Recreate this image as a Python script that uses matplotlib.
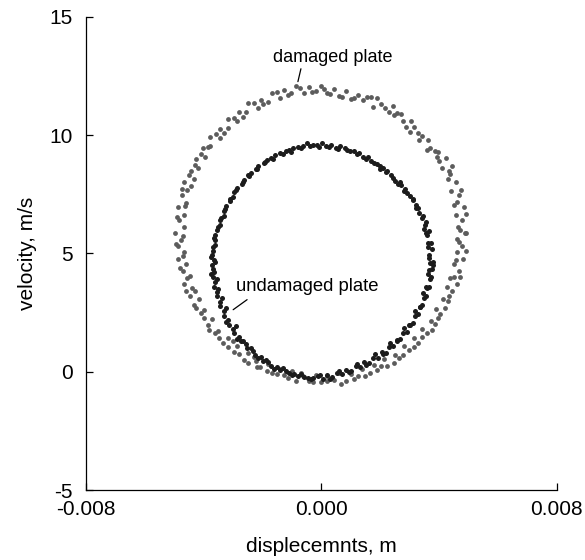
import numpy as np
import matplotlib.pyplot as plt

plt.rcParams['font.family'] = ['Liberation Sans', 'DejaVu Sans']
plt.rcParams['axes.unicode_minus'] = False

# damaged plate (outer ring): displacement in mm, velocity in m/s
damaged_mm = [
    4.87, 4.64, 4.78, 4.57, 4.83, 4.60, 4.68, 4.41, 4.57, 4.29,
    4.35, 4.08, 4.24, 3.92, 3.87, 3.57, 3.61, 3.31, 3.28, 3.00,
    3.05, 2.78, 2.70, 2.45, 2.44, 2.15, 2.03, 1.76, 1.67, 1.41,
    1.25, 1.00, 0.84, 0.60, 0.42, 0.20,
    -0.02, -0.20, -0.42, -0.61, -0.87, -1.04, -1.27, -1.41, -1.69, -1.81,
    -2.06, -2.16, -2.49, -2.56, -2.81, -2.86, -3.18, -3.19, -3.45, -3.45,
    -3.80, -3.79, -4.02, -3.96, -4.27, -4.18, -4.42, -4.32, -4.67, -4.56,
    -4.75, -4.59, -4.87, -4.68, -4.85, -4.67,
    -4.97, -4.77, -4.89, -4.66, -4.87, -4.61, -4.71, -4.46, -4.67, -4.41,
    -4.45, -4.16, -4.27, -3.98, -3.99, -3.71, -3.81, -3.52, -3.47, -3.17,
    -3.18, -2.87, -2.79, -2.51, -2.49, -2.21, -2.08, -1.80, -1.69, -1.42,
    -1.26, -1.01, -0.87, -0.62, -0.43, -0.20,
    0.00, 0.20, 0.41, 0.60, 0.85, 1.02, 1.25, 1.39, 1.66, 1.78,
    2.03, 2.13, 2.46, 2.49, 2.77, 2.81, 3.13, 3.14, 3.40, 3.40,
    3.75, 3.73, 3.96, 3.90, 4.21, 4.12, 4.35, 4.25, 4.60, 4.49,
    4.68, 4.52, 4.80, 4.61, 4.78, 4.60,
    4.70, 4.90, 4.52, 4.74, 4.38, 4.45, 3.98, 3.95, 3.68, 3.42,
    3.15, 2.88, 2.58, 2.28, 1.90, 1.55, 1.10, 0.70, 0.30, 0.10,
    -0.32, -0.72, -1.12, -1.50, -1.98, -2.30, -2.68, -2.98, -3.30, -3.58,
    -3.84, -4.08, -4.30, -4.50, -4.44, -4.74, -4.62, -4.92,
    -4.72, -4.94, -4.70, -4.82, -4.56, -4.60, -4.30, -4.32, -4.08, -3.86,
    -3.62, -3.36, -3.02, -2.96, -2.62, -2.30, -2.20, -1.86, -1.50, -1.12,
    -0.70, -0.30,
    0.18, 0.66, 1.10, 1.48, 1.90, 2.24, 2.62, 2.96, 3.28, 3.58,
    3.86, 4.02, 4.30, 4.44, 4.36, 4.72, 4.56, 4.90, 4.66, 4.92,
]
damaged_vel = [
    5.85, 6.11, 6.40, 6.63, 6.95, 7.17, 7.47, 7.65, 8.00, 8.15,
    8.48, 8.61, 9.02, 9.06, 9.31, 9.37, 9.78, 9.79, 10.10, 10.13,
    10.59, 10.59, 10.89, 10.87, 11.22, 11.15, 11.30, 11.20, 11.60, 11.47,
    11.70, 11.52, 11.86, 11.65, 11.94, 11.80,
    12.08, 11.87, 12.04, 11.77, 12.09, 11.80, 11.90, 11.57, 11.77, 11.41,
    11.48, 11.15, 11.34, 10.99, 10.98, 10.61, 10.67, 10.29, 10.24, 9.88,
    9.92, 9.56, 9.44, 9.07, 8.99, 8.63, 8.48, 8.13, 8.01, 7.68,
    7.47, 7.15, 6.95, 6.64, 6.40, 6.11,
    5.85, 5.58, 5.30, 5.07, 4.75, 4.55, 4.24, 4.06, 3.69, 3.52,
    3.20, 3.08, 2.70, 2.61, 2.28, 2.22, 1.78, 1.73, 1.42, 1.43,
    1.03, 1.07, 0.76, 0.81, 0.36, 0.44, 0.18, 0.31, -0.07, 0.11,
    -0.15, 0.02, -0.39, -0.20, -0.39, -0.14,
    -0.45, -0.17, -0.34, -0.07, -0.39, -0.10, -0.20, 0.13, -0.07, 0.29,
    0.22, 0.55, 0.36, 0.71, 0.72, 1.09, 1.03, 1.41, 1.46, 1.82,
    1.78, 2.14, 2.26, 2.63, 2.70, 3.07, 3.22, 3.57, 3.69, 4.02,
    4.24, 4.55, 4.75, 5.06, 5.30, 5.60,
    6.00, 6.65, 7.05, 7.70, 8.35, 8.70, 8.92, 9.30, 9.45, 9.98,
    10.35, 10.35, 10.95, 10.98, 11.55, 11.62, 11.55, 11.62, 11.72, 11.95,
    11.82, 11.98, 11.68, 11.82, 11.30, 11.34, 10.78, 10.74, 10.10, 10.05,
    9.50, 9.22, 8.72, 8.30, 7.85, 7.72, 7.00, 6.55,
    5.72, 5.40, 4.90, 4.40, 3.98, 3.40, 3.40, 2.84, 2.50, 1.98,
    1.62, 1.22, 1.30, 0.82, 0.50, 0.62, 0.18, 0.02, -0.10, -0.26,
    -0.06, -0.45,
    -0.40, -0.50, -0.30, -0.18, 0.06, 0.26, 0.60, 0.92, 1.22, 1.62,
    2.02, 2.42, 2.98, 3.40, 3.95, 4.00, 4.72, 5.10, 5.50, 5.85,
]

# undamaged plate (inner ring)
undamaged_mm = [
    3.80, 3.66, 3.75, 3.62, 3.73, 3.60, 3.66, 3.50, 3.56, 3.40,
    3.44, 3.28, 3.20, 3.12, 3.10, 2.90, 2.84, 2.70, 2.66, 2.50,
    2.36, 2.22, 2.10, 1.98, 1.90, 1.70, 1.58, 1.40, 1.26, 1.10,
    0.96, 0.80, 0.64, 0.48, 0.32, 0.16,
    0.02, -0.16, -0.30, -0.48, -0.64, -0.80, -0.96, -1.10, -1.22, -1.42,
    -1.58, -1.72, -1.86, -1.96, -2.14, -2.22, -2.40, -2.47, -2.64, -2.70,
    -2.86, -2.96, -3.00, -3.10, -3.24, -3.30, -3.32, -3.44, -3.46, -3.54,
    -3.60, -3.62, -3.61, -3.68, -3.72, -3.66,
    -3.73, -3.70, -3.66, -3.70, -3.61, -3.64, -3.55, -3.56, -3.44, -3.45,
    -3.31, -3.30, -3.16, -3.14, -2.99, -2.96, -2.79, -2.75, -2.57, -2.52,
    -2.33, -2.27, -2.07, -2.00, -1.80, -1.72, -1.52, -1.42, -1.22, -1.10,
    -0.92, -0.78, -0.60, -0.46, -0.28, -0.12,
    0.04, 0.20, 0.36, 0.52, 0.70, 0.84, 1.00, 1.16, 1.32, 1.46,
    1.62, 1.76, 1.91, 2.04, 2.18, 2.30, 2.44, 2.55, 2.68, 2.78,
    2.90, 2.99, 3.10, 3.18, 3.28, 3.34, 3.42, 3.47, 3.54, 3.58,
    3.65, 3.68, 3.72, 3.66, 3.76, 3.70,
    3.67, 3.63, 3.55, 3.52, 3.33, 3.20, 3.02, 2.80, 2.60, 2.42,
    2.20, 1.98, 1.80, 1.52, 1.20, 0.88, 0.55, 0.26,
    -0.08, -0.40, -0.70, -1.02, -1.30, -1.65, -1.92, -2.20, -2.48, -2.68,
    -2.92, -3.12, -3.28, -3.40, -3.52, -3.64, -3.70, -3.76,
    -3.62, -3.76, -3.56, -3.50, -3.38, -3.24, -3.26, -2.92, -2.88, -2.66,
    -2.40, -2.16, -1.90, -1.62, -1.32, -1.00, -0.70, -0.36,
    -0.04, 0.28, 0.60, 0.92, 1.22, 1.52, 1.82, 2.10, 2.34, 2.58,
    2.80, 3.02, 3.18, 3.34, 3.44, 3.56, 3.62, 3.80,
]
undamaged_vel = [
    4.62, 4.95, 5.18, 5.28, 5.45, 5.78, 5.95, 6.05, 6.34, 6.50,
    6.60, 6.90, 7.05, 7.25, 7.30, 7.55, 7.72, 7.90, 8.02, 8.08,
    8.30, 8.48, 8.62, 8.70, 8.76, 8.92, 9.07, 9.06, 9.24, 9.33,
    9.32, 9.46, 9.52, 9.47, 9.60, 9.55,
    9.68, 9.58, 9.60, 9.66, 9.55, 9.50, 9.46, 9.38, 9.34, 9.24,
    9.18, 9.05, 8.94, 8.82, 8.70, 8.56, 8.40, 8.26, 8.12, 7.95,
    7.78, 7.60, 7.40, 7.20, 7.00, 6.78, 6.60, 6.40, 6.18, 5.98,
    5.76, 5.55, 5.34, 5.12, 4.92, 4.72,
    4.52, 4.36, 4.20, 4.00, 3.78, 3.56, 3.36, 3.18, 2.95, 2.76,
    2.55, 2.36, 2.18, 1.98, 1.82, 1.62, 1.48, 1.30, 1.16, 1.00,
    0.88, 0.72, 0.62, 0.47, 0.40, 0.26, 0.20, 0.08, 0.04, -0.07,
    -0.10, -0.18, -0.22, -0.26, -0.28, -0.20,
    -0.30, -0.16, -0.22, -0.06, -0.10, 0.08, 0.05, 0.24, 0.20, 0.40,
    0.38, 0.60, 0.58, 0.82, 0.80, 1.06, 1.07, 1.34, 1.37, 1.65,
    1.69, 1.98, 2.04, 2.35, 2.42, 2.72, 2.80, 3.12, 3.20, 3.52,
    3.60, 3.92, 4.00, 4.28, 4.36, 4.60,
    4.80, 5.42, 5.86, 6.20, 6.70, 6.92, 7.42, 7.62, 7.92, 8.20,
    8.42, 8.58, 8.82, 8.98, 9.20, 9.36, 9.42, 9.50,
    9.50, 9.52, 9.44, 9.30, 9.22, 9.00, 8.86, 8.58, 8.32, 8.00,
    7.66, 7.30, 6.88, 6.50, 6.10, 5.66, 5.25, 4.84,
    4.62, 4.14, 3.92, 3.50, 3.10, 2.70, 2.10, 1.95, 1.40, 1.30,
    1.00, 0.56, 0.50, 0.12, 0.14, -0.16, -0.10, -0.32,
    -0.14, -0.30, 0.04, -0.02, 0.34, 0.30, 0.74, 0.74, 1.22, 1.30,
    1.84, 1.96, 2.56, 2.72, 3.34, 3.56, 4.14, 4.52,
]

x_ticks = [-0.008, 0.0, 0.008]
y_ticks = [-5, 0, 5, 10, 15]

fig = plt.figure(figsize=(5.85, 5.6), dpi=100)
ax = fig.add_axes([0.147, 0.125, 0.805, 0.845])

ax.scatter(np.array(damaged_mm) * 1e-3, damaged_vel, s=12, color='#5c5c5c',
           linewidths=0, zorder=2)
ax.scatter(np.array(undamaged_mm) * 1e-3, undamaged_vel, s=13, color='#1c1c1c',
           linewidths=0, zorder=3)

ax.annotate('damaged plate', xy=(-0.0008, 12.26), xytext=(-0.00165, 13.28),
            fontsize=13, va='center', ha='left',
            arrowprops=dict(arrowstyle='-', color='black', lw=0.9,
                            shrinkA=0, shrinkB=0, relpos=(0.24, 0.0)))
ax.annotate('undamaged plate', xy=(-0.0030, 2.62), xytext=(-0.0029, 3.59),
            fontsize=13.3, va='center', ha='left',
            arrowprops=dict(arrowstyle='-', color='black', lw=0.9,
                            shrinkA=2, shrinkB=0, relpos=(0.12, 0.0)))

ax.set_xlim(-0.008, 0.008)
ax.set_ylim(-5, 15)
ax.set_xticks(x_ticks)
ax.set_xticklabels([f'{v:.3f}' for v in x_ticks])
ax.set_yticks(y_ticks)
ax.tick_params(direction='in', length=5, width=0.9, labelsize=15)
ax.tick_params(axis='x', pad=7.5)
ax.tick_params(axis='y', pad=9.5)
for side in ['top', 'right']:
    ax.spines[side].set_visible(False)
for side in ['left', 'bottom']:
    ax.spines[side].set_linewidth(0.9)

ax.set_xlabel('displecemnts, m', fontsize=15, labelpad=13)
ax.set_ylabel('velocity, m/s', fontsize=15, labelpad=9)

fig.savefig('out.png', dpi=100)
